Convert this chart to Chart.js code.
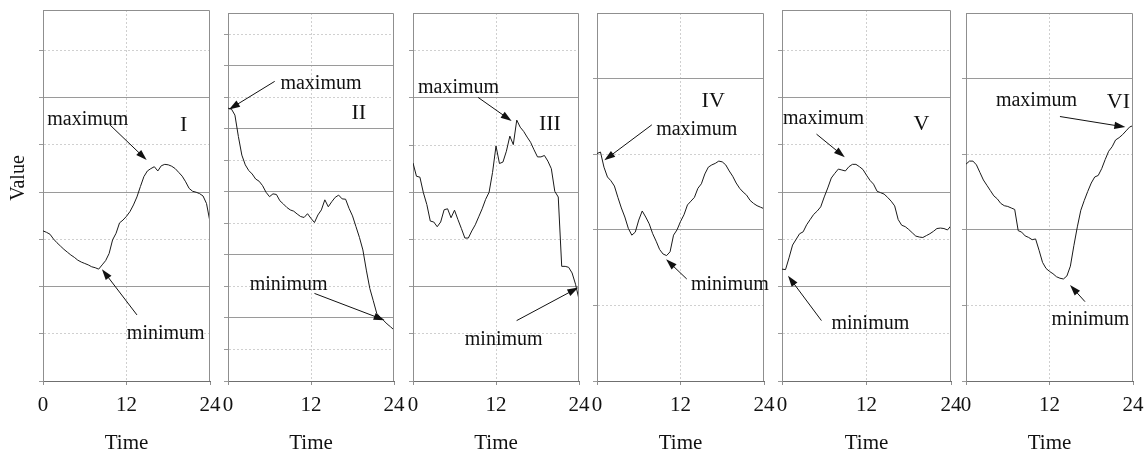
<!DOCTYPE html>
<html>
<head>
<meta charset="utf-8">
<script src="https://cdn.jsdelivr.net/npm/chart.js@4.4.1/dist/chart.umd.min.js"></script>
<style>
  html, body { margin: 0; padding: 0; background: #fff; }
  #wrap { position: relative; width: 1148px; height: 456px; overflow: hidden; }
  #wrap canvas { position: absolute; top: 0; }
</style>
</head>
<body>
<div id="wrap"></div>
<script>
// hourly samples, every half hour
const hours = [0,0.5,1,1.5,2,2.5,3,3.5,4,4.5,5,5.5,6,6.5,7,7.5,8,8.5,9,9.5,10,10.5,11,11.5,
  12,12.5,13,13.5,14,14.5,15,15.5,16,16.5,17,17.5,18,18.5,19,19.5,20,20.5,21,21.5,22,22.5,23,23.5,24];
const xTicks = [0, 12, 24];

// values
const panelI = [3.18,3.15,3.11,3.01,2.93,2.86,2.79,2.73,2.67,2.62,2.56,2.52,2.49,2.46,2.42,2.40,2.37,2.46,2.55,2.70,
  2.99,3.13,3.35,3.41,3.49,3.59,3.73,3.90,4.12,4.33,4.45,4.50,4.54,4.45,4.56,4.59,4.58,4.55,4.50,4.42,
  4.34,4.22,4.08,4.02,4.00,3.97,3.92,3.76,3.37];
const panelII = [8.66,8.63,8.44,7.76,7.17,6.86,6.68,6.57,6.41,6.34,6.20,5.99,5.85,5.94,5.92,5.72,5.62,5.51,5.43,5.39,
  5.30,5.22,5.19,5.31,5.16,5.03,5.27,5.43,5.75,5.53,5.69,5.83,5.90,5.78,5.77,5.48,5.24,4.90,4.56,4.16,
  3.52,2.94,2.55,2.15,2.02,1.92,1.81,1.72,1.62];
const panelIII = [4.62,4.34,4.32,3.99,3.74,3.39,3.37,3.27,3.37,3.63,3.65,3.46,3.62,3.42,3.23,3.03,3.03,3.18,3.31,3.48,
  3.65,3.85,4.00,4.42,4.98,4.61,4.64,4.87,5.19,5.01,5.53,5.38,5.29,5.17,5.06,4.90,4.75,4.75,4.78,4.66,
  4.50,4.02,3.90,2.43,2.43,2.41,2.29,2.05,1.73];
const panelIV = [3.01,3.03,2.83,2.70,2.65,2.58,2.43,2.29,2.17,2.02,1.93,1.97,2.13,2.25,2.17,2.08,1.95,1.85,1.74,1.68,
  1.66,1.71,1.93,2.00,2.11,2.20,2.33,2.38,2.43,2.55,2.61,2.74,2.83,2.86,2.88,2.91,2.90,2.86,2.78,2.71,
  2.62,2.55,2.50,2.46,2.39,2.35,2.32,2.30,2.28];
const panelV = [2.37,2.36,2.61,2.88,3.00,3.12,3.16,3.31,3.42,3.53,3.60,3.69,3.90,4.09,4.30,4.40,4.49,4.47,4.45,4.54,
  4.59,4.59,4.54,4.48,4.36,4.25,4.17,4.02,3.99,3.96,3.89,3.81,3.71,3.42,3.30,3.27,3.21,3.14,3.07,3.05,
  3.04,3.08,3.12,3.17,3.23,3.24,3.23,3.20,3.29];
const panelVI = [2.87,2.91,2.91,2.86,2.76,2.66,2.59,2.52,2.45,2.41,2.35,2.32,2.31,2.29,2.27,1.99,1.97,1.92,1.90,1.87,
  1.88,1.73,1.57,1.49,1.45,1.42,1.38,1.36,1.35,1.39,1.52,1.79,2.04,2.26,2.39,2.51,2.62,2.70,2.72,2.81,
  2.93,3.04,3.10,3.19,3.22,3.26,3.31,3.36,3.38];

const SERIF = "'Liberation Serif', 'Times New Roman', serif";

// top/right frame, labels and arrows
const notesPlugin = {
  id: 'notes',
  afterDatasetsDraw(chart, args, opts) {
    const { ctx, chartArea: a, scales: { x, y } } = chart;
    ctx.save();
    ctx.strokeStyle = '#8f8f8f';
    ctx.lineWidth = 1;
    const l = Math.round(a.left), r = Math.round(a.right) - 0.5;
    const t = Math.round(a.top) + 0.5, b = Math.round(a.bottom);
    ctx.beginPath();
    ctx.moveTo(l, t);
    ctx.lineTo(r, t);
    ctx.lineTo(r, b);
    ctx.stroke();

    ctx.fillStyle = '#111';
    ctx.strokeStyle = '#111';
    ctx.textBaseline = 'alphabetic';
    (opts.labels || []).forEach(lb => {
      ctx.font = (lb.big ? 22 : 20) + 'px ' + SERIF;
      ctx.textAlign = lb.big ? 'center' : 'left';
      ctx.fillText(lb.text, x.getPixelForValue(lb.at[0]), y.getPixelForValue(lb.at[1]));
    });
    (opts.arrows || []).forEach(ar => {
      const x1 = x.getPixelForValue(ar[0][0]), y1 = y.getPixelForValue(ar[0][1]);
      const x2 = x.getPixelForValue(ar[1][0]), y2 = y.getPixelForValue(ar[1][1]);
      const ang = Math.atan2(y2 - y1, x2 - x1);
      const hl = 11, hw = 3.6;
      ctx.lineWidth = 1;
      ctx.beginPath();
      ctx.moveTo(x1, y1);
      ctx.lineTo(x2 - Math.cos(ang) * hl * 0.8, y2 - Math.sin(ang) * hl * 0.8);
      ctx.stroke();
      ctx.beginPath();
      ctx.moveTo(x2, y2);
      ctx.lineTo(x2 - Math.cos(ang) * hl - Math.sin(ang) * hw, y2 - Math.sin(ang) * hl + Math.cos(ang) * hw);
      ctx.lineTo(x2 - Math.cos(ang) * hl + Math.sin(ang) * hw, y2 - Math.sin(ang) * hl - Math.cos(ang) * hw);
      ctx.closePath();
      ctx.fill();
    });
    if (opts.yTitle) {
      ctx.font = '20px ' + SERIF;
      ctx.textAlign = 'center';
      ctx.textBaseline = 'middle';
      ctx.translate(opts.yTitle.x, opts.yTitle.y);
      ctx.rotate(-Math.PI / 2);
      ctx.fillText(opts.yTitle.text, 0, 0);
    }
    ctx.restore();
  }
};

const panels = [
  { values: panelI, left: 43, width: 167, top: 10, ymax: 7.86,
    labels: [{ text: 'maximum', at: [0.62, 5.42] }, { text: 'I', at: [20.2, 5.30], big: true }, { text: 'minimum', at: [12.05, 0.89] }],
    arrows: [[[9.66, 5.42], [14.9, 4.68]], [[13.5, 1.40], [8.47, 2.37]]],
    yTitle: { text: 'Value', x: 19, y: 178 } },
  { values: panelII, left: 228, width: 166, top: 13, ymax: 11.68,
    labels: [{ text: 'maximum', at: [7.58, 9.27] }, { text: 'II', at: [18.9, 8.31], big: true }, { text: 'minimum', at: [3.14, 2.90] }],
    arrows: [[[6.75, 9.51], [0.14, 8.62]], [[12.5, 2.78], [22.65, 1.93]]] },
  { values: panelIII, left: 413, width: 166, top: 13, ymax: 7.80,
    labels: [{ text: 'maximum', at: [0.72, 6.10] }, { text: 'III', at: [19.8, 5.32], big: true }, { text: 'minimum', at: [7.49, 0.76] }],
    arrows: [[[9.42, 6.01], [14.26, 5.51]], [[14.98, 1.28], [23.9, 1.98]]] },
  { values: panelIV, left: 597, width: 167, top: 13, ymax: 4.87,
    labels: [{ text: 'IV', at: [16.7, 3.62], big: true }, { text: 'maximum', at: [8.5, 3.25] }, { text: 'minimum', at: [13.5, 1.20] }],
    arrows: [[[7.88, 3.39], [1.05, 2.92]], [[12.9, 1.35], [9.93, 1.61]]] },
  { values: panelV, left: 782, width: 169, top: 10, ymax: 7.86,
    labels: [{ text: 'maximum', at: [0.14, 5.44] }, { text: 'V', at: [19.8, 5.32], big: true }, { text: 'minimum', at: [7.03, 1.11] }],
    arrows: [[[4.9, 5.23], [8.92, 4.74]], [[5.6, 1.28], [0.85, 2.23]]] },
  { values: panelVI, left: 966, width: 167, top: 13, ymax: 4.87,
    labels: [{ text: 'maximum', at: [4.3, 3.64] }, { text: 'VI', at: [21.9, 3.61], big: true }, { text: 'minimum', at: [12.3, 0.74] }],
    arrows: [[[13.5, 3.50], [22.9, 3.36]], [[17.1, 1.05], [14.95, 1.27]]] }
];

const PADL = 43, PADR = 32;
const wrap = document.getElementById('wrap');

panels.forEach(p => {
  const cv = document.createElement('canvas');
  cv.width = p.width + PADL + PADR;
  cv.height = 456;
  cv.style.left = (p.left - PADL) + 'px';
  wrap.appendChild(cv);

  new Chart(cv, {
    type: 'line',
    data: {
      datasets: [{
        data: hours.map((h, i) => ({ x: h, y: p.values[i] })),
        borderColor: '#1a1a1a',
        borderWidth: 1,
        pointRadius: 0,
        tension: 0
      }]
    },
    options: {
      responsive: false,
      animation: false,
      layout: { padding: { left: PADL, right: PADR, top: p.top, bottom: 0 } },
      plugins: {
        legend: { display: false },
        tooltip: { enabled: false },
        notes: { labels: p.labels, arrows: p.arrows, yTitle: p.yTitle }
      },
      scales: {
        x: {
          type: 'linear',
          min: 0, max: 24,
          afterBuildTicks: s => { s.ticks = xTicks.map(v => ({ value: v })); },
          afterFit: s => { s.height = 75; },
          ticks: { color: '#111', font: { family: SERIF, size: 21 }, padding: 8, maxRotation: 0 },
          grid: {
            color: c => (c.tick && c.tick.value === 12) ? '#cfcfcf' : 'rgba(0,0,0,0)',
            tickColor: '#8f8f8f',
            tickLength: 4
          },
          border: { color: '#6f6f6f', dash: c => (c.tick && c.tick.value === 12) ? [2, 2] : [] },
          title: { display: true, text: 'Time', color: '#111', font: { family: SERIF, size: 21 }, padding: { top: 0, bottom: 0 } }
        },
        y: {
          min: 0, max: p.ymax,
          afterBuildTicks: s => { s.ticks = s.ticks.filter(t => Number.isInteger(t.value)); },
          afterFit: s => { s.width = 0; },
          ticks: { display: false, stepSize: 1 },
          grid: {
            color: c => (c.tick && c.tick.value % 2 === 0 && c.tick.value > 0) ? '#9a9a9a' : (c.tick && c.tick.value > 0 ? '#d0d0d0' : 'rgba(0,0,0,0)'),
            tickColor: '#9a9a9a',
            tickLength: 4
          },
          border: { color: '#8f8f8f', dash: c => (c.tick && c.tick.value % 2 !== 0) ? [2, 2] : [] }
        }
      }
    },
    plugins: [notesPlugin]
  });
});
</script>
</body>
</html>
